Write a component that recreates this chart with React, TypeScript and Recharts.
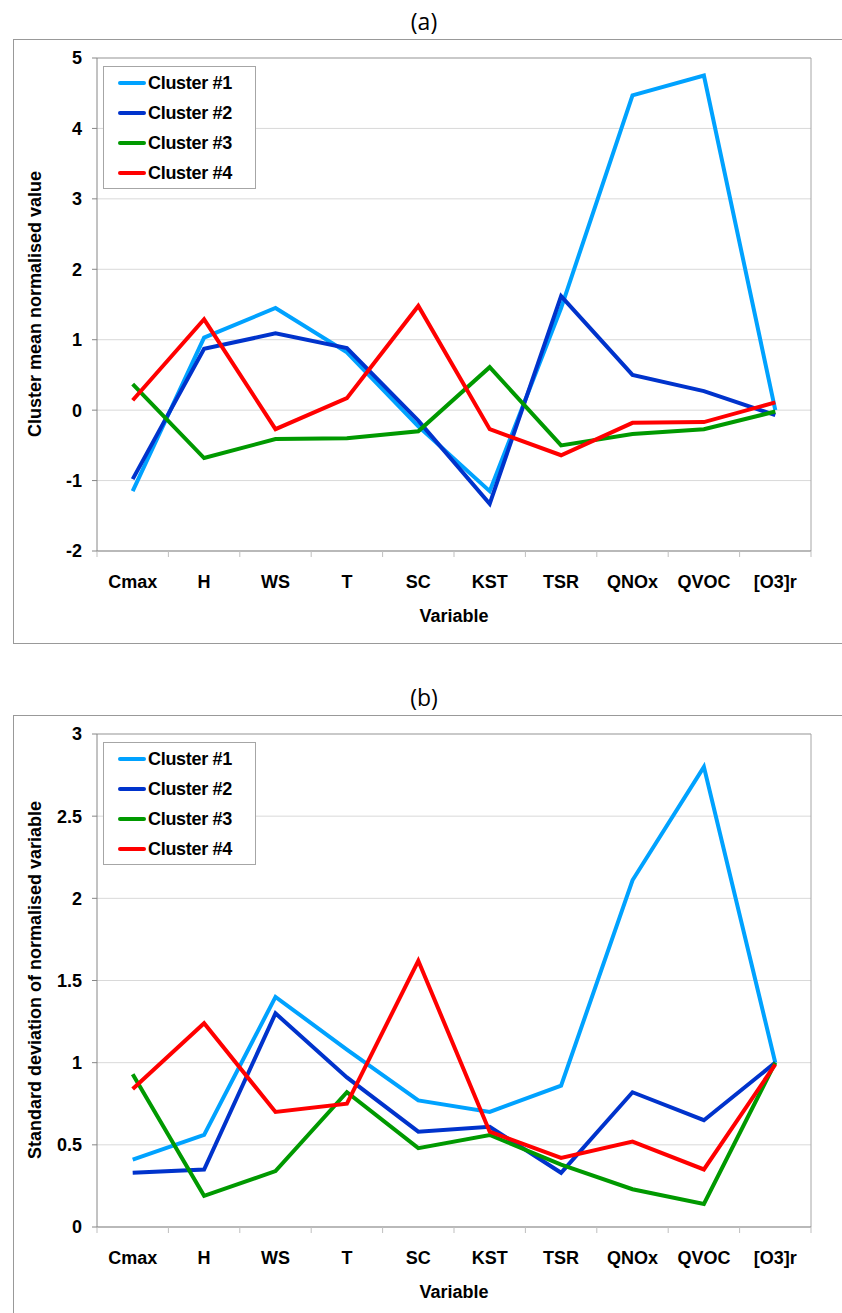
import React from 'react'
import {
  LineChart, Line, XAxis, YAxis, CartesianGrid, Legend, ReferenceLine
} from 'recharts'

const VARIABLES = ['Cmax', 'H', 'WS', 'T', 'SC', 'KST', 'TSR', 'QNOx', 'QVOC', '[O3]r']

const CLUSTERS = ['Cluster #1', 'Cluster #2', 'Cluster #3', 'Cluster #4']
const COLORS = ['#00A2FF', '#0033CC', '#009900', '#FF0000']

// (a) cluster mean of normalised variable
const MEAN_C1 = [-1.15, 1.03, 1.45, 0.82, -0.23, -1.15, 1.45, 4.47, 4.75, 0.0]
const MEAN_C2 = [-0.98, 0.87, 1.09, 0.88, -0.15, -1.33, 1.62, 0.5, 0.27, -0.07]
const MEAN_C3 = [0.37, -0.68, -0.41, -0.4, -0.3, 0.61, -0.5, -0.34, -0.27, -0.02]
const MEAN_C4 = [0.14, 1.29, -0.27, 0.17, 1.48, -0.27, -0.64, -0.18, -0.17, 0.11]
const MEAN_TICKS = [-2, -1, 0, 1, 2, 3, 4, 5]

// (b) standard deviation of normalised variable
const SD_C1 = [0.41, 0.56, 1.4, 1.08, 0.77, 0.7, 0.86, 2.11, 2.8, 1.0]
const SD_C2 = [0.33, 0.35, 1.3, 0.91, 0.58, 0.61, 0.33, 0.82, 0.65, 1.0]
const SD_C3 = [0.93, 0.19, 0.34, 0.82, 0.48, 0.56, 0.38, 0.23, 0.14, 1.0]
const SD_C4 = [0.84, 1.24, 0.7, 0.75, 1.62, 0.58, 0.42, 0.52, 0.35, 0.99]
const SD_TICKS = [0, 0.5, 1, 1.5, 2, 2.5, 3]

const EDGE_TICKS = VARIABLES.map((_, i) => i).concat(VARIABLES.length)

const FONT = '"Liberation Sans", Arial, sans-serif'
const tickStyle = { fontSize: 18, fontWeight: 700, fill: '#000', fontFamily: FONT }

function buildRows(series: number[][]) {
  return VARIABLES.map((name, i) => {
    const row: Record<string, number | string> = { x: i + 0.5, name }
    series.forEach((s, k) => { row['c' + k] = s[i] })
    return row
  })
}

function renderLegend(props: any) {
  const items = props.payload || []
  return (
    <div style={{
      border: '1px solid #a6a6a6', background: '#fff', width: 151,
      padding: '1px 0 0 0', fontFamily: FONT
    }}>
      {items.map((it: any) => (
        <div key={it.value} style={{ height: 30, display: 'flex', alignItems: 'center', paddingLeft: 14 }}>
          <span style={{ width: 28, height: 4, background: it.color, borderRadius: 2, display: 'inline-block' }} />
          <span style={{ fontSize: 18, fontWeight: 700, marginLeft: 2, color: '#000', letterSpacing: -0.3 }}>{it.value}</span>
        </div>
      ))}
    </div>
  )
}

interface PanelProps {
  title: string
  yLabel: string
  series: number[][]
  ticks: number[]
}

function Panel({ title, yLabel, series, ticks }: PanelProps) {
  const rows = buildRows(series)
  const n = VARIABLES.length
  return (
    <div style={{ position: 'relative', width: 842, height: 676 }}>
      <div style={{
        position: 'absolute', left: 424, top: 21, transform: 'translate(-50%, -50%)',
        fontFamily: '"Open Sans", sans-serif', fontSize: 23, lineHeight: 1
      }}>{title}</div>
      <div style={{
        position: 'absolute', left: 13, top: 39, width: 840, height: 603,
        border: '1px solid #999'
      }} />
      <div style={{ position: 'absolute', left: 0, top: 0 }}>
        <LineChart width={842} height={643} data={rows}
          margin={{ top: 58, right: 31, left: 37, bottom: 46 }}>
          <CartesianGrid vertical={false} stroke="#d9d9d9" xAxisId="axisA" />
          <XAxis xAxisId="axisA" type="number" dataKey="x" domain={[0, n]} ticks={EDGE_TICKS}
            interval={0} height={6} tickSize={6} tickFormatter={() => ''}
            axisLine={{ stroke: '#868686' }} tickLine={{ stroke: '#bfbfbf' }} />
          <XAxis xAxisId="axisB" type="number" dataKey="x" domain={[0, n]} ticks={rows.map(r => r.x as number)}
            interval={0} height={40} tickSize={0} tickMargin={18} axisLine={false} tickLine={false}
            tick={tickStyle} tickFormatter={(v: number) => VARIABLES[Math.floor(v)]} />
          <YAxis type="number" domain={[ticks[0], ticks[ticks.length - 1]]} ticks={ticks} interval={0}
            width={60} tickSize={5} tickMargin={10} tick={tickStyle}
            axisLine={{ stroke: '#868686' }} tickLine={{ stroke: '#868686' }} />
          <ReferenceLine xAxisId="axisA" x={n} stroke="#a6a6a6" />
          <ReferenceLine xAxisId="axisA" y={ticks[ticks.length - 1]} stroke="#a6a6a6" />
          <Legend layout="vertical" align="center" verticalAlign="middle" content={renderLegend}
            wrapperStyle={{ left: 103, top: 66, width: 153, height: 'auto' }} />
          {CLUSTERS.map((name, k) => (
            <Line key={name} xAxisId="axisA" type="linear" dataKey={'c' + k} name={name}
              stroke={COLORS[k]} strokeWidth={4} dot={false} isAnimationActive={false} />
          ))}
        </LineChart>
      </div>
      <div style={{
        position: 'absolute', left: 35, top: 304, transform: 'translate(-50%, -50%) rotate(-90deg)',
        whiteSpace: 'nowrap', fontFamily: FONT, fontSize: 18, fontWeight: 700
      }}>{yLabel}</div>
      <div style={{
        position: 'absolute', left: 454, top: 616, transform: 'translate(-50%, -50%)',
        fontFamily: FONT, fontSize: 18, fontWeight: 700
      }}>Variable</div>
    </div>
  )
}

export default function App() {
  return (
    <div style={{
      position: 'absolute', left: 0, top: 0, width: 842, height: 1313,
      overflow: 'hidden', background: '#fff'
    }}>
      <Panel title="(a)" yLabel="Cluster mean normalised value"
        series={[MEAN_C1, MEAN_C2, MEAN_C3, MEAN_C4]} ticks={MEAN_TICKS} />
      <Panel title="(b)" yLabel="Standard deviation of normalised variable"
        series={[SD_C1, SD_C2, SD_C3, SD_C4]} ticks={SD_TICKS} />
    </div>
  )
}
